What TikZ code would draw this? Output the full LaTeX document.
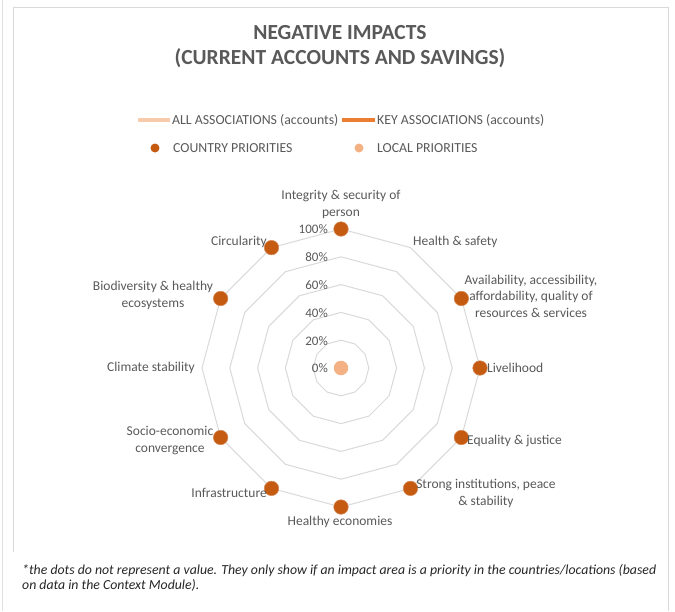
\documentclass[tikz,border=0pt]{standalone}
\usepackage{fontspec}
\setmainfont{Carlito}
\definecolor{txtgray}{HTML}{595959}
\definecolor{gridgray}{HTML}{D9D9D9}
\definecolor{framegray}{HTML}{D9D9D9}
\definecolor{countrycol}{HTML}{C55A11}
\definecolor{localcol}{HTML}{F4B183}
\definecolor{allcol}{HTML}{F8CBAD}
\definecolor{keycol}{HTML}{ED7D31}
\definecolor{notecol}{HTML}{262626}
\tikzset{
  gridline/.style={draw=gridgray, line width=1pt},
  framelinestyle/.style={draw=framegray, line width=1pt},
  cdot/.style={circle, fill=countrycol, draw=countrycol!70!white, line width=0.6pt, minimum size=14.5pt, inner sep=0pt},
  ldot/.style={circle, fill=localcol, minimum size=14.5pt, inner sep=0pt},
  axislbl/.style={text=txtgray, font=\fontsize{13.5}{16.5}\selectfont, inner sep=0pt, align=center},
  pctlbl/.style={text=txtgray, font=\fontsize{13}{15}\selectfont, inner sep=0pt, anchor=east},
  leglbl/.style={text=txtgray, font=\fontsize{13.8}{15}\selectfont, inner sep=0pt, anchor=west},
  legcdot/.style={circle, fill=countrycol, minimum size=9pt, inner sep=0pt},
  legldot/.style={circle, fill=localcol, minimum size=9pt, inner sep=0pt},
  titlestyle/.style={text=txtgray, font=\fontsize{21.5}{25}\selectfont\bfseries, align=center, inner sep=0pt},
  notestyle/.style={text=notecol, font=\fontsize{13.8}{15}\selectfont\itshape, align=left, inner sep=0pt, anchor=north west}
}
\begin{document}
\begin{tikzpicture}[x=1pt,y=-1pt]
\useasboundingbox (0,0) rectangle (675,611);
% frame lines
\coordinate (o1) at (2,0);
\coordinate (o2) at (2,611);
\draw[draw=black!12, line width=1pt] (o1) -- (o2);
\coordinate (f1) at (13,552);
\coordinate (f2) at (13,7.5);
\coordinate (f3) at (668,7.5);
\coordinate (f4) at (668,611);
\draw[framelinestyle] (f1) -- (f2) -- (f3) -- (f4);

% title
\node[titlestyle] (title) at (340,47) {NEGATIVE IMPACTS\\(CURRENT ACCOUNTS AND SAVINGS)};

% legend
\coordinate (la1) at (138,120);
\coordinate (la2) at (170,120);
\draw[allcol, line width=3.5pt] (la1) -- (la2);
\node[leglbl] (lalltxt) at (172,120) {ALL ASSOCIATIONS (accounts)};
\coordinate (lk1) at (342,120);
\coordinate (lk2) at (375,120);
\draw[keycol, line width=3.5pt] (lk1) -- (lk2);
\node[leglbl] (lkeytxt) at (377,120) {KEY ASSOCIATIONS (accounts)};
\node[legcdot] (lcdot) at (155,148) {};
\node[leglbl] (lctxt) at (173,148) {COUNTRY PRIORITIES};
\node[legldot] (lldot) at (359,148) {};
\node[leglbl] (lltxt) at (377,148) {LOCAL PRIORITIES};

% radar grid
\foreach \r in {27.8,55.6,83.4,111.2,139}{
  \draw[gridline] ({341+\r*cos(90)},{368-\r*sin(90)})
    \foreach \k in {1,...,11}{ -- ({341+\r*cos(90-30*\k)},{368-\r*sin(90-30*\k)}) } -- cycle;
}
% percentage labels
\node[pctlbl] (p0) at (328,368) {0\%};
\node[pctlbl] (p20) at (328,341) {20\%};
\node[pctlbl] (p40) at (328,313) {40\%};
\node[pctlbl] (p60) at (328,285.5) {60\%};
\node[pctlbl] (p80) at (328,257.5) {80\%};
\node[pctlbl] (p100) at (328,229.5) {100\%};

% dots
\node[cdot] (d1) at ({341+139*cos(90)},{368-139*sin(90)}) {};
\node[cdot] (d3) at ({341+139*cos(30)},{368-139*sin(30)}) {};
\node[cdot] (d4) at ({341+139*cos(0)},{368-139*sin(0)}) {};
\node[cdot] (d5) at ({341+139*cos(-30)},{368-139*sin(-30)}) {};
\node[cdot] (d6) at ({341+139*cos(-60)},{368-139*sin(-60)}) {};
\node[cdot] (d7) at ({341+139*cos(-90)},{368-139*sin(-90)}) {};
\node[cdot] (d8) at ({341+139*cos(-120)},{368-139*sin(-120)}) {};
\node[cdot] (d9) at ({341+139*cos(-150)},{368-139*sin(-150)}) {};
\node[cdot] (d11) at ({341+139*cos(150)},{368-139*sin(150)}) {};
\node[cdot] (d12) at ({341+139*cos(120)},{368-139*sin(120)}) {};
\node[ldot] (dc) at (341,368) {};

% axis labels
\node[axislbl] (a1) at (341,204.5) {Integrity \& security of\\person};
\node[axislbl, anchor=west] (a2) at (413,242) {Health \& safety};
\node[axislbl] (a3) at (531,296) {Availability, accessibility,\\affordability, quality of\\resources \& services};
\node[axislbl, anchor=west] (a4) at (487,368) {Livelihood};
\node[axislbl, anchor=west] (a5) at (467,441) {Equality \& justice};
\node[axislbl] (a6) at (486,493.5) {Strong institutions, peace\\\& stability};
\node[axislbl] (a7) at (340,522) {Healthy economies};
\node[axislbl, anchor=east] (a8) at (267,493) {Infrastructure};
\node[axislbl] (a9) at (170,440.5) {Socio-economic\\convergence};
\node[axislbl, anchor=east] (a10) at (195,368) {Climate stability};
\node[axislbl] (a11) at (153,295.5) {Biodiversity \& healthy\\ecosystems};
\node[axislbl, anchor=east] (a12) at (267,242) {Circularity};

% footnote
\node[notestyle] (note) at (22,564) {*the dots do not represent a value. They only show if an impact area is a priority in the countries/locations (based\\on data in the Context Module).};
\end{tikzpicture}
\end{document}
